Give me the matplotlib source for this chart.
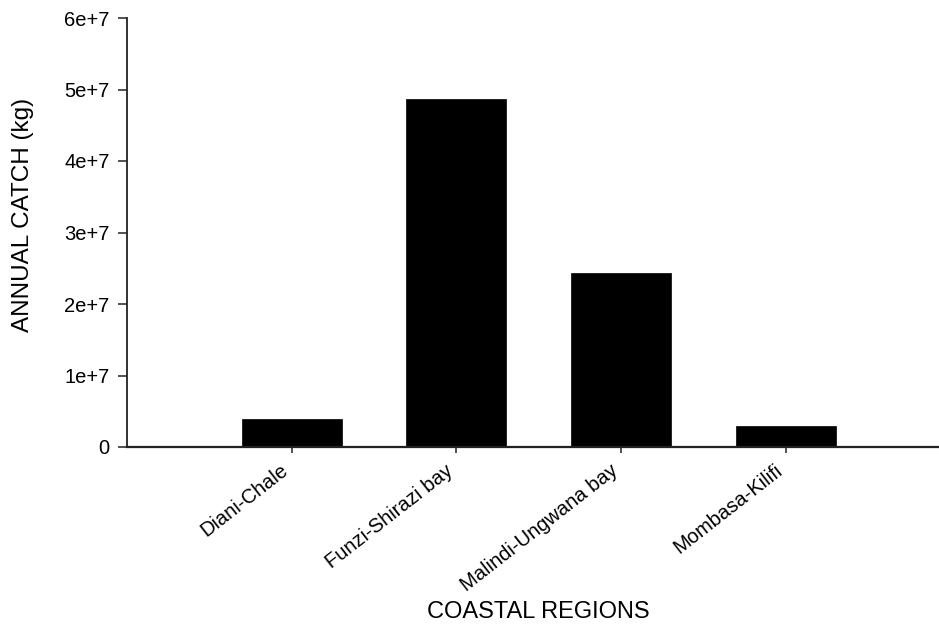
import matplotlib
matplotlib.use("Agg")
import matplotlib.pyplot as plt
import numpy as np

# Data
REGIONS = ["Diani-Chale", "Funzi-Shirazi bay", "Malindi-Ungwana bay", "Mombasa-Kilifi"]
CATCH_KG = [3.9e6, 4.87e7, 2.44e7, 2.9e6]
Y_TICKS = [0, 1e7, 2e7, 3e7, 4e7, 5e7, 6e7]
Y_TICK_LABELS = ["0", "1e+7", "2e+7", "3e+7", "4e+7", "5e+7", "6e+7"]

plt.rcParams["font.family"] = ["Liberation Sans", "DejaVu Sans"]

fig = plt.figure(figsize=(9.39, 6.25), dpi=100)
ax = fig.add_axes([0.1353, 0.2848, 0.8647, 0.6864])

x = np.arange(len(REGIONS))
ax.bar(x, CATCH_KG, width=0.607, color="black", edgecolor="black", linewidth=0.5)

ax.set_xlim(-1.0, 3.93)
ax.set_ylim(0, 6e7)

ax.set_yticks(Y_TICKS)
ax.set_yticklabels(Y_TICK_LABELS, fontsize=14.5)
ax.set_xticks(x)
ax.set_xticklabels(REGIONS, fontsize=14.5, rotation=38, ha="right", rotation_mode="default")

ax.spines["top"].set_visible(False)
ax.spines["right"].set_visible(False)
ax.spines["left"].set_color("#222222")
ax.spines["bottom"].set_color("#222222")
ax.spines["left"].set_linewidth(1.3)
ax.spines["bottom"].set_linewidth(1.6)
ax.tick_params(axis="y", direction="out", length=6.5, width=1.1, pad=6, colors="#222222", labelcolor="black")
ax.tick_params(axis="x", direction="out", length=4, width=1.1, pad=6, colors="#222222", labelcolor="black")

ax.set_xlabel("COASTAL REGIONS", fontsize=17)
ax.xaxis.set_label_coords(0.506, -0.36)
ax.set_ylabel("ANNUAL CATCH (kg)", fontsize=17.5)
ax.yaxis.set_label_coords(-0.114, 0.542)

fig.savefig("out.png", dpi=100)
